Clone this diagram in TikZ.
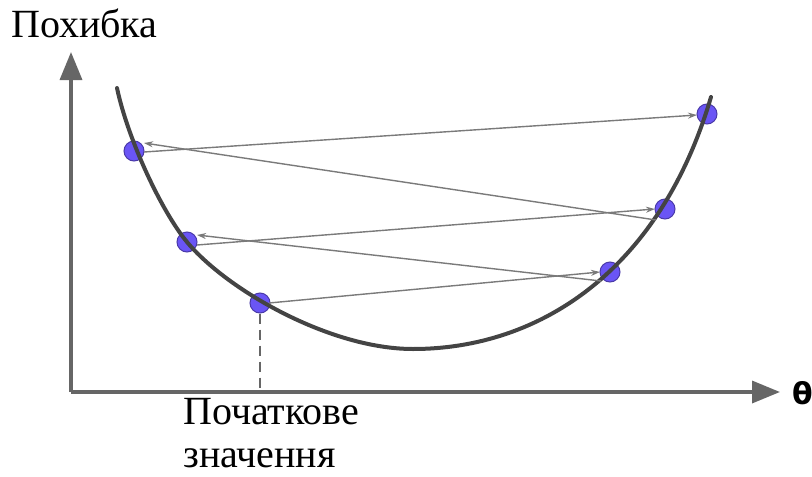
\documentclass[tikz,border=0pt]{standalone}
\usepackage{fontspec}
\setmainfont{Liberation Serif}
\newfontfamily\thetafont{DejaVu Sans}
\usetikzlibrary{arrows.meta}
\definecolor{axisgray}{HTML}{666666}
\definecolor{curvegray}{HTML}{444444}
\definecolor{stepgray}{HTML}{7A7A7A}
\definecolor{dotfill}{HTML}{6A55F5}
\definecolor{dotedge}{HTML}{4A3AA8}
\tikzset{
  axisline/.style={draw=axisgray, line width=3.5pt, -{Triangle[length=28pt,width=22pt]}},
  curveline/.style={draw=curvegray, line width=4pt, line cap=round},
  stepline/.style={draw=stepgray, line width=1.4pt, -{Stealth[length=9pt,width=6pt]}},
  dotnode/.style={circle, minimum size=20pt, inner sep=0pt, fill=dotfill, draw=dotedge, line width=1pt},
  labeltext/.style={font=\fontsize{40}{45}\selectfont, inner sep=0pt},
}
\begin{document}
\begin{tikzpicture}[x=1pt,y=-1pt]
\useasboundingbox (0,0) rectangle (812,477);
\coordinate (o) at (71,392);
\coordinate (ytip) at (71,52);
\coordinate (xtip) at (780,392);
\draw[axisline] (o) -- (ytip);
\draw[axisline] (o) -- (xtip);
\node[font=\fontsize{30}{31}\selectfont\thetafont\bfseries, anchor=west, inner sep=0pt] (theta) at (792,393) {θ};
\node[labeltext, anchor=base west] (loss) at (11,37) {Похибка};
\node[labeltext, anchor=base west] (init) at (183,424) {Початкове};
\node[labeltext, anchor=base west] (init2) at (183,467) {значення};
% dots
\node[dotnode] (d1) at (134,151) {};
\node[dotnode] (d2) at (187,242) {};
\node[dotnode] (d3) at (260,303) {};
\node[dotnode] (d4) at (610,272) {};
\node[dotnode] (d5) at (665,209) {};
\node[dotnode] (d6) at (707,114) {};
% curve on top of dots
\coordinate (cstart) at (117,88);
\coordinate (cmin) at (413,349);
\coordinate (cend) at (711,97);
\draw[curveline] (cstart) .. controls (128,140) and (162,212) .. (d2.center)
  .. controls (227,290) and (330,349) .. (cmin)
  .. controls (540,349) and (660,270) .. (cend);
% dashed
\coordinate (dfoot) at (260,390);
\draw[draw=axisgray, line width=2pt, dash pattern=on 10pt off 6pt] (d3.south) -- (dfoot);
% steps
\draw[stepline] ([xshift=9pt]d3.center) -- ([xshift=-10pt]d4.center);
\draw[stepline] ([xshift=-9pt,yshift=-9pt]d4.center) -- ([xshift=10pt,yshift=7pt]d2.center);
\draw[stepline] ([xshift=10pt,yshift=-3pt]d2.center) -- ([xshift=-10pt]d5.center);
\draw[stepline] ([xshift=-9pt,yshift=-11pt]d5.center) -- ([xshift=10pt,yshift=8pt]d1.center);
\draw[stepline] ([xshift=10pt,yshift=-1pt]d1.center) -- ([xshift=-10pt,yshift=-1pt]d6.center);
\end{tikzpicture}
\end{document}
